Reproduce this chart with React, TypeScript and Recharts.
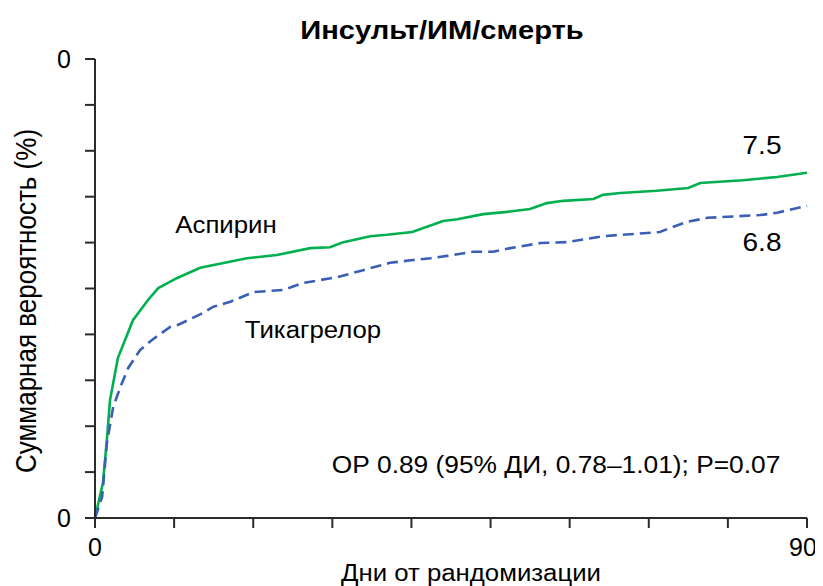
import React from "react";
import { LineChart, Line, XAxis, YAxis } from "recharts";

const titleText = "Инсульт/ИМ/смерть";
const xAxisTitle = "Дни от рандомизации";
const yAxisTitle = "Суммарная вероятность (%)";
const aspirinLabel = "Аспирин";
const ticagrelorLabel = "Тикагрелор";
const aspirinEndLabel = "7.5";
const ticagrelorEndLabel = "6.8";
const statsText = "ОР 0.89 (95% ДИ, 0.78–1.01); P=0.07";

const xTicks = [0, 10, 20, 30, 40, 50, 60, 70, 80, 90];
const yTicks = [0, 1, 2, 3, 4, 5, 6, 7, 8, 9, 10];
const xTickLabels: Record<number, string> = { 0: "0", 90: "90" };
const yTickLabels: Record<number, string> = { 0: "0", 10: "0" };

const aspirinDays = [0, 1.0, 1.5, 1.9, 2.9, 4.8, 6.7, 8.0, 10.4, 13.3, 19.2, 23.0, 27.2, 29.7, 31.4, 34.8, 36.9, 40.1, 44.0, 45.8, 49.1, 52.1, 55.0, 57.1, 59.2, 63.0, 64.2, 66.4, 71.0, 75.0, 76.5, 81.9, 86.2, 90];
const aspirinValues = [0, 0.76, 1.7, 2.57, 3.49, 4.31, 4.75, 5.01, 5.23, 5.45, 5.66, 5.73, 5.88, 5.9, 6.01, 6.14, 6.17, 6.23, 6.47, 6.51, 6.62, 6.67, 6.73, 6.86, 6.91, 6.95, 7.04, 7.08, 7.13, 7.19, 7.3, 7.36, 7.43, 7.52];

const ticagrelorDays = [0, 0.9, 1.5, 2.3, 3.2, 4.2, 5.7, 7.2, 9.5, 10.4, 13.7, 14.9, 17.1, 20.0, 23.8, 26.3, 30.7, 33.9, 37.3, 40.2, 42.4, 44.5, 47.8, 50.3, 52.5, 56.3, 59.7, 62.2, 64.2, 71.4, 72.7, 74.8, 77.4, 84.1, 86.2, 90];
const ticagrelorValues = [0, 0.46, 1.63, 2.42, 2.85, 3.27, 3.66, 3.88, 4.16, 4.2, 4.47, 4.6, 4.71, 4.92, 4.97, 5.12, 5.25, 5.4, 5.56, 5.62, 5.66, 5.71, 5.8, 5.8, 5.88, 5.99, 6.01, 6.08, 6.14, 6.23, 6.32, 6.45, 6.54, 6.6, 6.65, 6.8];

const aspirinData = aspirinDays.map((d, i) => ({ day: d, value: aspirinValues[i] }));
const ticagrelorData = ticagrelorDays.map((d, i) => ({ day: d, value: ticagrelorValues[i] }));

const FONT = "'Liberation Sans', Arial, sans-serif";
const AXIS = "#2b2b2b";

function Overlay({ x, y, size, text, bold, rotate }: { x: number; y: number; size: number; text: string; bold?: boolean; rotate?: boolean }) {
  return (
    <div
      style={{
        position: "absolute",
        left: x - 8,
        top: y - 8,
        transform: rotate ? "translate(-50%,-50%) rotate(-90deg) scaleY(1.12)" : "translate(-50%,-50%) scaleX(1.12)",
        fontFamily: FONT,
        fontSize: size,
        fontWeight: bold ? "bold" : "normal",
        whiteSpace: "nowrap",
        color: "#000",
        lineHeight: 1,
      }}
    >
      {text}
    </div>
  );
}

const XTick = (props: any) => {
  const { x, y, payload } = props;
  const label = xTickLabels[payload.value];
  if (!label) return null;
  const shift = payload.value === 90 ? -4 : 0;
  return (
    <text x={x + shift} y={y} dy={20} textAnchor="middle" fontFamily={FONT} fontSize={25} fill="#000">
      {label}
    </text>
  );
};

const YTick = (props: any) => {
  const { x, y, payload } = props;
  const label = yTickLabels[payload.value];
  if (!label) return null;
  return (
    <text x={x} y={y} dy={9} textAnchor="end" fontFamily={FONT} fontSize={25} fill="#000">
      {label}
    </text>
  );
};

export default function App() {
  return (
    <div style={{ position: "relative", width: 815, height: 578 }}>
      <LineChart width={815} height={578} margin={{ top: 51, right: 16, left: 27, bottom: 28 }} style={{ overflow: "visible" }}>
        <XAxis
          dataKey="day"
          type="number"
          domain={[0, 90]}
          ticks={xTicks}
          interval={0}
          allowDuplicatedCategory={false}
          stroke={AXIS}
          strokeWidth={2}
          tickSize={10}
          tickMargin={8}
          height={40}
          tick={<XTick />}
        />
        <YAxis
          dataKey="value"
          type="number"
          domain={[0, 10]}
          ticks={yTicks}
          interval={0}
          stroke={AXIS}
          strokeWidth={2}
          tickSize={10}
          tickMargin={14}
          width={60}
          tick={<YTick />}
        />
        <Line data={aspirinData} dataKey="value" stroke="#00B04F" strokeWidth={2.6} dot={false} isAnimationActive={false} type="linear" />
        <Line data={ticagrelorData} dataKey="value" stroke="#3A5FB5" strokeWidth={2.6} strokeDasharray="11 6" dot={false} isAnimationActive={false} type="linear" />
      </LineChart>
      <Overlay x={442} y={30} size={26} text={titleText} bold />
      <Overlay x={226} y={225} size={23} text={aspirinLabel} />
      <Overlay x={313} y={330} size={23} text={ticagrelorLabel} />
      <Overlay x={762} y={145} size={25} text={aspirinEndLabel} />
      <Overlay x={762} y={242} size={25} text={ticagrelorEndLabel} />
      <Overlay x={556} y={466} size={23.5} text={statsText} />
      <Overlay x={471} y={573} size={23} text={xAxisTitle} />
      <Overlay x={26} y={301} size={26} text={yAxisTitle} rotate />
    </div>
  );
}
